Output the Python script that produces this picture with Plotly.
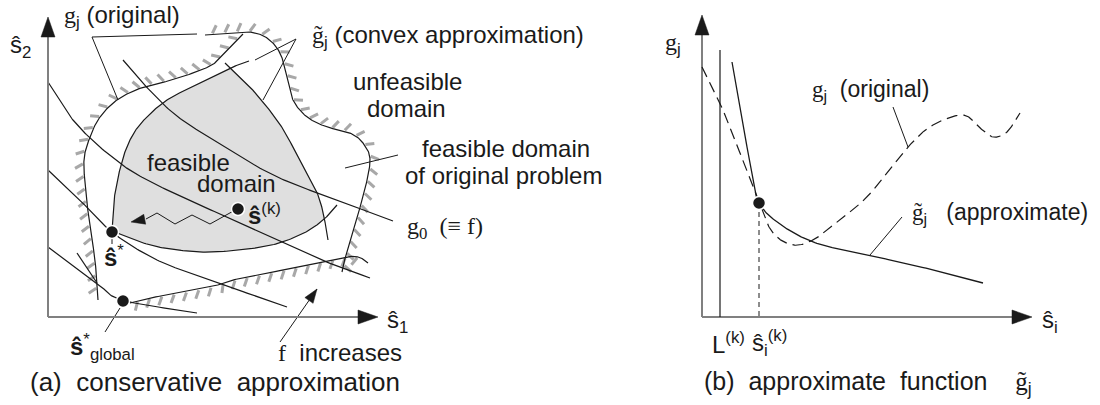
import numpy as np
import plotly.graph_objects as go

W, H = 1100, 405

# ---------------- panel (a): conservative approximation ----------------
# axes (pixel space: x to the right, y downward)
a_origin = (48, 317)
a_x_end = 378
a_y_end = 17

# original constraint boundaries (hatched on the infeasible side)
orig_arc = [(243, 34), (226, 52), (210, 66), (175, 79), (141, 88), (117, 100), (100, 117),
            (90, 137), (84, 160), (86, 193), (90, 227), (95, 260), (98, 300)]
orig_right = [(205, 35), (230, 33), (250, 32), (267, 38), (280, 53), (287, 77), (293, 100),
              (307, 117), (327, 127), (350, 133), (363, 143), (370, 160), (364, 193),
              (354, 227), (347, 250), (342, 272)]
orig_bottom = [(130, 303), (150, 298), (210, 287), (233, 280), (283, 270), (340, 258),
               (358, 257), (368, 263)]

# convex approximations bounding the shaded feasible domain
conv_left = [(112, 231), (114, 200), (121, 165), (130, 140), (143, 121), (167, 100),
             (200, 83), (228, 69), (249, 61)]
conv_right = [(225, 63), (250, 87), (277, 120), (293, 147), (305, 170), (316, 190),
              (323, 212), (328, 240)]
conv_bottom = [(112, 231), (140, 242), (170, 249), (213, 252), (267, 246), (300, 235),
               (322, 221), (337, 205)]

# objective contours g0
obj_1 = [(123, 60), (140, 80), (173, 113), (210, 138), (267, 172), (317, 193), (380, 216), (393, 221)]
obj_2 = [(48, 82), (73, 120), (107, 153), (147, 180), (233, 220), (317, 258), (370, 278)]
obj_3 = [(48, 170), (77, 197), (112, 232), (157, 260), (210, 280), (287, 307)]
obj_4 = [(48, 247), (97, 283), (122, 300), (197, 313)]
corner_piece = [(77, 253), (97, 283)]

# iteration path from s(k) towards s*
iter_path = [(237, 209), (210, 224), (192, 215), (175, 224), (157, 213), (146, 219), (131, 222)]

# points
pt_k = (238, 209)
pt_star = (112, 232)
pt_global = (123, 301)

# leader lines
leaders_a = [
    [(92, 37), (197, 34)], [(92, 37), (118, 100)],
    [(296, 39), (255, 60)], [(296, 39), (263, 100)],
    [(345, 168), (398, 155)],
    [(120, 308), (105, 332)],
    [(112, 239), (112, 244)],
]
f_arrow = [(280, 342), (317, 289)]

# ---------------- panel (b): approximate function ----------------
b_origin = (702, 317)
b_x_end = 1032
b_y_end = 15
L_k_x = 720
L_k_top = 50
s_k = (759, 203)

g_approx = [(732, 62), (740, 105), (747, 147), (753, 180), (759, 203), (777, 222),
            (813, 242), (867, 255), (913, 265), (983, 283)]
g_orig = [(702, 67), (720, 103), (740, 153), (759, 203), (773, 233), (793, 245),
          (813, 240), (830, 227), (867, 197), (908, 147), (933, 125), (963, 115),
          (980, 128), (993, 137), (1007, 132), (1020, 113)]
leaders_b = [[(893, 107), (908, 147)], [(902, 217), (870, 255)]]


def catmull(pts, n=24):
    P = np.array(pts, float)
    P = np.vstack([2 * P[0] - P[1], P, 2 * P[-1] - P[-2]])
    t = np.linspace(0, 1, n, endpoint=False)[:, None]
    out = []
    for i in range(1, len(P) - 2):
        p0, p1, p2, p3 = P[i - 1], P[i], P[i + 1], P[i + 2]
        out.append(0.5 * (2 * p1 + (-p0 + p2) * t + (2 * p0 - 5 * p1 + 4 * p2 - p3) * t ** 2
                          + (-p0 + 3 * p1 - 3 * p2 + p3) * t ** 3))
    out.append(P[-2][None, :])
    return np.vstack(out)


def hatch(curve, side, step=12.5, length=9.0, tilt=30):
    d = np.diff(curve, axis=0)
    seg = np.hypot(d[:, 0], d[:, 1])
    s = np.concatenate([[0], np.cumsum(seg)])
    xs, ys = [], []
    a = np.radians(tilt)
    for si in np.arange(step * 0.6, s[-1] - 2, step):
        i = min(np.searchsorted(s, si) - 1, len(seg) - 1)
        f = (si - s[i]) / seg[i]
        p = curve[i] + f * d[i]
        tv = d[i] / seg[i]
        nv = side * np.array([-tv[1], tv[0]])
        dv = np.cos(a) * nv + np.sin(a) * tv
        p0 = p + nv * 1.0
        p1 = p0 + dv * length
        xs += [p0[0], p1[0], None]
        ys += [p0[1], p1[1], None]
    return xs, ys


def closest(a, b):
    dd = np.hypot(a[:, None, 0] - b[None, :, 0], a[:, None, 1] - b[None, :, 1])
    return np.unravel_index(np.argmin(dd), dd.shape)


def head(tip, frm, length, width):
    tip = np.array(tip, float)
    dv = tip - np.array(frm, float)
    dv /= np.hypot(*dv)
    nv = np.array([-dv[1], dv[0]])
    base = tip - dv * length
    p = [tip, base + nv * width / 2, base - nv * width / 2, tip]
    return [q[0] for q in p], [q[1] for q in p]


fig = go.Figure()
BLACK = "#1a1a1a"
GRAY_AX = "#808080"
HATCH = "#a8a8a8"


def line(pts, width=1.2, color=BLACK, dash=None, smooth=True):
    c = catmull(pts) if smooth and len(pts) > 2 else np.array(pts, float)
    fig.add_trace(go.Scatter(x=c[:, 0], y=c[:, 1], mode="lines",
                             line=dict(color=color, width=width, dash=dash),
                             hoverinfo="skip", showlegend=False))
    return c


def poly(xs, ys, color):
    fig.add_trace(go.Scatter(x=xs, y=ys, mode="lines", fill="toself", fillcolor=color,
                             line=dict(color=color, width=0.5), hoverinfo="skip",
                             showlegend=False))


# shaded feasible domain
cl, cr, cb = catmull(conv_left), catmull(conv_right), catmull(conv_bottom)
i1, j1 = closest(cl, cr)
j2, k2 = closest(cr, cb)
region = np.vstack([cl[:i1 + 1], cr[j1:j2 + 1], cb[k2::-1]])
poly(region[:, 0], region[:, 1], "#dfdfdf")

# hatching on the infeasible side of the original boundaries
for pts, side, tilt in [(orig_arc, 1, 30), (orig_right, -1, 30), (orig_bottom, 1, -30)]:
    hx, hy = hatch(catmull(pts), side, tilt=tilt)
    fig.add_trace(go.Scatter(x=hx, y=hy, mode="lines", line=dict(color=HATCH, width=3),
                             hoverinfo="skip", showlegend=False))

for pts in [orig_arc, orig_right, orig_bottom, conv_left, conv_right, conv_bottom,
            obj_1, obj_2, obj_3, obj_4, corner_piece]:
    line(pts)

for seg in leaders_a + leaders_b:
    line(seg, width=1.0, smooth=False)

# iteration path with arrowhead
line(iter_path[:-1], width=1.0, smooth=False)
hx, hy = head(iter_path[-1], iter_path[-2], 14, 10)
poly(hx, hy, BLACK)

# "f increases" arrow
line(f_arrow[:1] + [f_arrow[1]], width=1.0, smooth=False)
hx, hy = head(f_arrow[1], f_arrow[0], 14, 10)
poly(hx, hy, BLACK)

# axes with arrowheads
for origin, xe, ye in [(a_origin, a_x_end, a_y_end), (b_origin, b_x_end, b_y_end)]:
    ox, oy = origin
    line([(ox, oy), (xe - 10, oy)], width=2, color=GRAY_AX, smooth=False)
    line([(ox, oy), (ox, ye + 10)], width=2, color=GRAY_AX, smooth=False)
    hx, hy = head((xe, oy), (ox, oy), 20, 14)
    poly(hx, hy, BLACK)
    hx, hy = head((ox, ye), (ox, oy), 20, 14)
    poly(hx, hy, BLACK)

# panel (b) curves
line([(L_k_x, b_origin[1]), (L_k_x, L_k_top)], width=1.2, smooth=False)
line([(s_k[0], s_k[1]), (s_k[0], b_origin[1])], width=1.0, dash="5px,4px", smooth=False)
line(g_approx, width=1.3)
line(g_orig, width=1.2, dash="11px,6px")

# markers
for p in [pt_k, pt_star, pt_global, s_k]:
    fig.add_trace(go.Scatter(x=[p[0]], y=[p[1]], mode="markers",
                             marker=dict(size=13, color=BLACK, line=dict(color="white", width=1.5)),
                             hoverinfo="skip", showlegend=False))

SANS = "Liberation Sans"


def ser(t):
    return f'<span style="font-family:Liberation Serif">{t}</span>'


def text(x, y, t, size=24, anchor="left"):
    fig.add_annotation(x=x, y=y, text=t, showarrow=False, xanchor=anchor, yanchor="middle",
                       font=dict(family=SANS, size=size, color=BLACK))


G_T = "g\u0303"
S_H = "\u015d"

# panel (a) labels
text(8, 46, f"{S_H}<sub>2</sub>")
text(385, 321, f"{S_H}<sub>1</sub>")
text(62, 16, ser("g") + "<sub>j</sub> (original)")
text(310, 36, ser(G_T) + "<sub>j</sub> (convex approximation)")
text(351, 81, "unfeasible")
text(365, 108, "domain")
text(420, 148, "feasible domain")
text(403, 175, "of original problem")
text(405, 228, ser("g<sub>0</sub>  (\u2261 f)"))
text(145, 162, "feasible")
text(195, 183, "domain")
text(246, 214, f"<b>{S_H}</b><sup>(k)</sup>")
text(102, 256, f"<b>{S_H}</b><sup>*</sup>")
text(68, 347, f"<b>{S_H}</b><sup>*</sup><sub>global</sub>")
text(276, 352, ser("f") + "  increases")
text(28, 382, "(a)  conservative  approximation", size=26)

# panel (b) labels
text(663, 44, ser("g") + "<sub>j</sub>")
text(1040, 321, f"{S_H}<sub>i</sub>")
text(710, 343, "L<sup>(k)</sup>")
text(750, 343, f"{S_H}<sub>i</sub><sup>(k)</sup>")
text(810, 90, ser("g") + "<sub>j</sub>  (original)", size=23)
text(910, 213, ser(G_T) + "<sub>j</sub>   (approximate)", size=23)
text(702, 383, "(b)  approximate  function    " + ser(G_T) + "<sub>j</sub>", size=25)

fig.update_layout(
    width=W, height=H, margin=dict(l=0, r=0, t=0, b=0),
    paper_bgcolor="white", plot_bgcolor="white",
    xaxis=dict(range=[0, W], visible=False, fixedrange=True),
    yaxis=dict(range=[H, 0], visible=False, fixedrange=True),
)
fig.write_html("out.html")
